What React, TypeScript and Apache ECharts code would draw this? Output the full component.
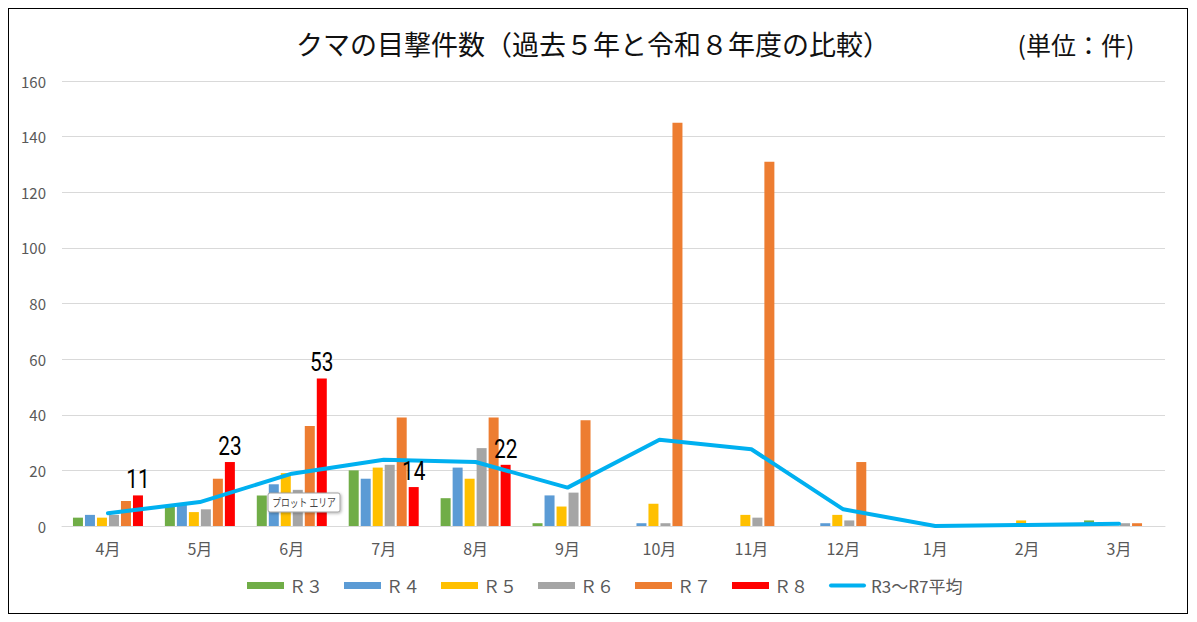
import React, { useEffect, useRef } from "react";
import * as echarts from "echarts";

const months = ["4月", "5月", "6月", "7月", "8月", "9月", "10月", "11月", "12月", "1月", "2月", "3月"];
const r3 = [3, 7, 11, 20, 10, 1, 0, 0, 0, 0, 0, 2];
const r4 = [4, 8, 15, 17, 21, 11, 1, 0, 1, 0, 0, 0];
const r5 = [3, 5, 19, 21, 17, 7, 8, 4, 4, 0, 2, 0];
const r6 = [4, 6, 13, 22, 28, 12, 1, 3, 2, 0, 0, 1];
const r7 = [9, 17, 36, 39, 39, 38, 145, 131, 23, 0, 0, 1];
const r8 = [11, 23, 53, 14, 22, null, null, null, null, null, null, null];
const avg = [4.6, 8.6, 18.8, 23.8, 23, 13.8, 31, 27.6, 6, 0, 0.4, 0.8];

const seriesNames = ["Ｒ３", "Ｒ４", "Ｒ５", "Ｒ６", "Ｒ７", "Ｒ８"];
const seriesColors = ["#70AD47", "#5B9BD5", "#FFC000", "#A5A5A5", "#ED7D31", "#FF0000"];
const avgName = "R3～R7平均";

const FONT = "'Noto Sans CJK JP', 'Noto Sans', sans-serif";
const BAR_W = 10;
const BAR_GAP_PX = 2;

export default function App() {
  const ref = useRef<HTMLDivElement>(null);
  useEffect(() => {
    if (!ref.current) return;
    const chart = echarts.init(ref.current, undefined, { renderer: "svg" });
    const barData = [r3, r4, r5, r6, r7, r8];
    const bars = barData.map((d, i) => ({
      name: seriesNames[i],
      type: "bar",
      data: d,
      barWidth: BAR_W,
      barGap: "20%",
      itemStyle: { color: seriesColors[i] },
      z: 2,
    }));
    // offset of the last (R8) bar centre from the category centre
    const n = barData.length;
    const groupW = n * BAR_W + (n - 1) * BAR_GAP_PX;
    const r8Offset = groupW / 2 - BAR_W / 2;
    const labelData = r8
      .map((v, i) => (v == null ? null : [i, v]))
      .filter((d) => d !== null);
    chart.setOption({
      animation: false,
      textStyle: { fontFamily: FONT },
      grid: { left: 53, right: 22, top: 72, bottom: 87, containLabel: false },
      legend: {
        left: 233,
        top: 563,
        itemWidth: 37,
        itemHeight: 7,
        itemGap: 21,
        textStyle: { color: "#595959", fontSize: 17, fontFamily: FONT },
        data: [
          ...seriesNames.map((nm) => ({ name: nm, icon: "rect" })),
          {
            name: avgName,
            icon: "path://M2,0H35A2,2,0,0,1,35,4H2A2,2,0,0,1,2,0Z",
          },
        ],
      },
      xAxis: {
        type: "category",
        data: months,
        axisLine: { show: true, lineStyle: { color: "#D9D9D9", width: 1 } },
        axisTick: { show: false },
        axisLabel: { color: "#595959", fontSize: 16, margin: 14, fontFamily: FONT },
      },
      yAxis: {
        type: "value",
        min: 0,
        max: 160,
        interval: 20,
        axisLine: { show: false },
        axisTick: { show: false },
        splitLine: { lineStyle: { color: "#D9D9D9", width: 1 } },
        axisLabel: { color: "#595959", fontSize: 15, margin: 16, fontFamily: FONT },
      },
      series: [
        ...bars,
        {
          name: avgName,
          type: "line",
          data: avg,
          symbol: "none",
          z: 5,
          lineStyle: { color: "#00B0F0", width: 4, cap: "round", join: "round" },
          itemStyle: { color: "#00B0F0" },
        },
        {
          name: "r8labels",
          type: "custom",
          z: 6,
          silent: true,
          legendHoverLink: false,
          data: labelData,
          renderItem: (params: any, api: any) => {
            const v = api.value(1);
            const p = api.coord([api.value(0), v]);
            return {
              type: "text",
              x: p[0] + r8Offset,
              y: p[1] - 3,
              scaleX: 0.8,
              style: {
                text: String(v),
                fill: "#000",
                fontSize: 26,
                fontFamily: "Roboto, 'Liberation Sans', sans-serif",
                textAlign: "center",
                textVerticalAlign: "bottom",
              },
            };
          },
        },
      ],
      graphic: [
        {
          type: "text",
          x: 584,
          y: 34,
          style: {
            text: "クマの目撃件数（過去５年と令和８年度の比較）",
            fill: "#111",
            fontSize: 27,
            fontFamily: FONT,
            textAlign: "center",
            textVerticalAlign: "middle",
          },
        },
        {
          type: "text",
          x: 1067,
          y: 35,
          style: {
            text: "(単位：件)",
            fill: "#111",
            fontSize: 25,
            fontFamily: FONT,
            textAlign: "center",
            textVerticalAlign: "middle",
          },
        },
        {
          type: "rect",
          z: 100,
          zlevel: 1,
          shape: { x: 259, y: 484, width: 72, height: 19, r: 2 },
          style: {
            fill: "#FFFFFF",
            stroke: "#A0A0A0",
            lineWidth: 1,
            shadowBlur: 3,
            shadowColor: "rgba(0,0,0,0.3)",
            shadowOffsetX: 1,
            shadowOffsetY: 1,
          },
        },
        {
          type: "text",
          z: 101,
          zlevel: 1,
          x: 295,
          y: 493.5,
          scaleX: 0.8,
          style: {
            text: "プロット エリア",
            fill: "#444",
            fontSize: 11,
            fontFamily: FONT,
            textAlign: "center",
            textVerticalAlign: "middle",
          },
        },
      ],
    });
    return () => chart.dispose();
  }, []);
  return (
    <div
      style={{
        width: 1180,
        height: 606,
        border: "1px solid #000",
        boxSizing: "border-box",
        background: "#fff",
      }}
    >
      <div ref={ref} style={{ width: 1178, height: 604 }} />
    </div>
  );
}
